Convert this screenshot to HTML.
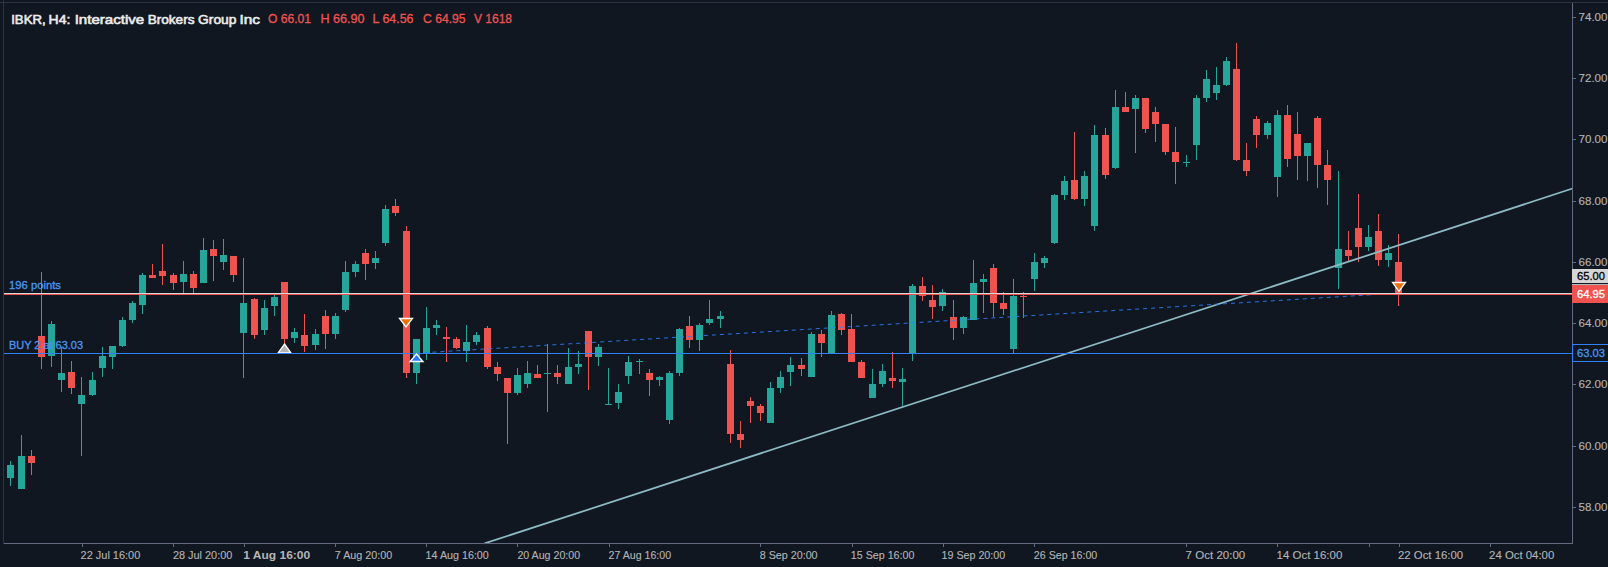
<!DOCTYPE html>
<html><head><meta charset="utf-8"><title>IBKR, H4: Interactive Brokers Group Inc</title>
<style>html,body{margin:0;padding:0;background:#101721;overflow:hidden}body{width:1608px;height:567px;position:relative}svg{position:absolute;left:0;top:0;display:block}text{font-family:"Liberation Sans", sans-serif}text.s{stroke-width:0.3px;paint-order:stroke fill}</style></head><body>
<svg width="1608" height="567" viewBox="0 0 1608 567">
<rect x="0" y="0" width="1608" height="567" fill="#101721"/>
<g shape-rendering="crispEdges">
<rect x="10" y="461" width="1" height="25" fill="#26a69a"/>
<rect x="7" y="465" width="7" height="13" fill="#26a69a"/>
<rect x="21" y="435" width="1" height="54" fill="#26a69a"/>
<rect x="18" y="456" width="7" height="33" fill="#26a69a"/>
<rect x="31" y="450" width="1" height="25" fill="#ef5350"/>
<rect x="28" y="456" width="7" height="7" fill="#ef5350"/>
<rect x="41" y="272" width="1" height="97" fill="#ef5350"/>
<rect x="38" y="336" width="7" height="21" fill="#ef5350"/>
<rect x="51" y="321" width="1" height="46" fill="#26a69a"/>
<rect x="48" y="324" width="7" height="32" fill="#26a69a"/>
<rect x="61" y="347" width="1" height="45" fill="#26a69a"/>
<rect x="58" y="373" width="7" height="7" fill="#26a69a"/>
<rect x="71" y="361" width="1" height="33" fill="#ef5350"/>
<rect x="68" y="372" width="7" height="16" fill="#ef5350"/>
<rect x="81" y="377" width="1" height="79" fill="#26a69a"/>
<rect x="78" y="395" width="7" height="9" fill="#26a69a"/>
<rect x="92" y="372" width="1" height="24" fill="#26a69a"/>
<rect x="89" y="380" width="7" height="15" fill="#26a69a"/>
<rect x="102" y="347" width="1" height="30" fill="#26a69a"/>
<rect x="99" y="356" width="7" height="12" fill="#26a69a"/>
<rect x="112" y="346" width="1" height="23" fill="#26a69a"/>
<rect x="109" y="346" width="7" height="11" fill="#26a69a"/>
<rect x="122" y="317" width="1" height="30" fill="#26a69a"/>
<rect x="119" y="320" width="7" height="26" fill="#26a69a"/>
<rect x="132" y="301" width="1" height="22" fill="#26a69a"/>
<rect x="129" y="303" width="7" height="17" fill="#26a69a"/>
<rect x="142" y="273" width="1" height="41" fill="#26a69a"/>
<rect x="139" y="275" width="7" height="30" fill="#26a69a"/>
<rect x="152" y="264" width="1" height="14" fill="#ef5350"/>
<rect x="149" y="275" width="7" height="3" fill="#ef5350"/>
<rect x="162" y="244" width="1" height="41" fill="#ef5350"/>
<rect x="159" y="271" width="7" height="5" fill="#ef5350"/>
<rect x="173" y="273" width="1" height="17" fill="#ef5350"/>
<rect x="170" y="275" width="7" height="8" fill="#ef5350"/>
<rect x="183" y="261" width="1" height="32" fill="#26a69a"/>
<rect x="180" y="274" width="7" height="8" fill="#26a69a"/>
<rect x="193" y="271" width="1" height="22" fill="#ef5350"/>
<rect x="190" y="274" width="7" height="14" fill="#ef5350"/>
<rect x="203" y="238" width="1" height="45" fill="#26a69a"/>
<rect x="200" y="250" width="7" height="33" fill="#26a69a"/>
<rect x="213" y="240" width="1" height="41" fill="#ef5350"/>
<rect x="210" y="249" width="7" height="7" fill="#ef5350"/>
<rect x="223" y="239" width="1" height="31" fill="#26a69a"/>
<rect x="220" y="255" width="7" height="7" fill="#26a69a"/>
<rect x="233" y="256" width="1" height="26" fill="#ef5350"/>
<rect x="230" y="256" width="7" height="19" fill="#ef5350"/>
<rect x="243" y="258" width="1" height="120" fill="#26a69a"/>
<rect x="240" y="303" width="7" height="30" fill="#26a69a"/>
<rect x="254" y="298" width="1" height="41" fill="#ef5350"/>
<rect x="251" y="299" width="7" height="36" fill="#ef5350"/>
<rect x="264" y="300" width="1" height="35" fill="#26a69a"/>
<rect x="261" y="308" width="7" height="22" fill="#26a69a"/>
<rect x="274" y="295" width="1" height="21" fill="#26a69a"/>
<rect x="271" y="297" width="7" height="9" fill="#26a69a"/>
<rect x="284" y="282" width="1" height="62" fill="#ef5350"/>
<rect x="281" y="282" width="7" height="57" fill="#ef5350"/>
<rect x="294" y="328" width="1" height="15" fill="#26a69a"/>
<rect x="291" y="332" width="7" height="6" fill="#26a69a"/>
<rect x="304" y="314" width="1" height="38" fill="#ef5350"/>
<rect x="301" y="335" width="7" height="11" fill="#ef5350"/>
<rect x="315" y="329" width="1" height="21" fill="#26a69a"/>
<rect x="312" y="334" width="7" height="11" fill="#26a69a"/>
<rect x="325" y="310" width="1" height="39" fill="#ef5350"/>
<rect x="322" y="316" width="7" height="18" fill="#ef5350"/>
<rect x="335" y="313" width="1" height="26" fill="#26a69a"/>
<rect x="332" y="316" width="7" height="18" fill="#26a69a"/>
<rect x="345" y="261" width="1" height="51" fill="#26a69a"/>
<rect x="342" y="272" width="7" height="38" fill="#26a69a"/>
<rect x="355" y="261" width="1" height="16" fill="#26a69a"/>
<rect x="352" y="264" width="7" height="8" fill="#26a69a"/>
<rect x="365" y="249" width="1" height="31" fill="#ef5350"/>
<rect x="362" y="253" width="7" height="11" fill="#ef5350"/>
<rect x="375" y="251" width="1" height="18" fill="#26a69a"/>
<rect x="372" y="258" width="7" height="5" fill="#26a69a"/>
<rect x="385" y="205" width="1" height="41" fill="#26a69a"/>
<rect x="382" y="209" width="7" height="34" fill="#26a69a"/>
<rect x="395" y="199" width="1" height="17" fill="#ef5350"/>
<rect x="392" y="206" width="7" height="7" fill="#ef5350"/>
<rect x="406" y="226" width="1" height="152" fill="#ef5350"/>
<rect x="403" y="231" width="7" height="142" fill="#ef5350"/>
<rect x="416" y="339" width="1" height="45" fill="#26a69a"/>
<rect x="413" y="339" width="7" height="34" fill="#26a69a"/>
<rect x="426" y="307" width="1" height="53" fill="#26a69a"/>
<rect x="423" y="328" width="7" height="25" fill="#26a69a"/>
<rect x="436" y="320" width="1" height="15" fill="#26a69a"/>
<rect x="433" y="325" width="7" height="3" fill="#26a69a"/>
<rect x="446" y="327" width="1" height="35" fill="#ef5350"/>
<rect x="443" y="337" width="7" height="2" fill="#ef5350"/>
<rect x="456" y="337" width="1" height="12" fill="#ef5350"/>
<rect x="453" y="339" width="7" height="9" fill="#ef5350"/>
<rect x="466" y="325" width="1" height="37" fill="#26a69a"/>
<rect x="463" y="342" width="7" height="9" fill="#26a69a"/>
<rect x="476" y="332" width="1" height="13" fill="#26a69a"/>
<rect x="473" y="335" width="7" height="7" fill="#26a69a"/>
<rect x="487" y="326" width="1" height="43" fill="#ef5350"/>
<rect x="484" y="328" width="7" height="39" fill="#ef5350"/>
<rect x="497" y="362" width="1" height="19" fill="#ef5350"/>
<rect x="494" y="367" width="7" height="7" fill="#ef5350"/>
<rect x="507" y="378" width="1" height="66" fill="#ef5350"/>
<rect x="504" y="378" width="7" height="15" fill="#ef5350"/>
<rect x="517" y="368" width="1" height="27" fill="#26a69a"/>
<rect x="514" y="375" width="7" height="18" fill="#26a69a"/>
<rect x="527" y="361" width="1" height="27" fill="#26a69a"/>
<rect x="524" y="373" width="7" height="11" fill="#26a69a"/>
<rect x="537" y="365" width="1" height="13" fill="#ef5350"/>
<rect x="534" y="374" width="7" height="4" fill="#ef5350"/>
<rect x="547" y="344" width="1" height="68" fill="#26a69a"/>
<rect x="544" y="373" width="7" height="1" fill="#26a69a"/>
<rect x="557" y="365" width="1" height="19" fill="#ef5350"/>
<rect x="554" y="373" width="7" height="4" fill="#ef5350"/>
<rect x="568" y="348" width="1" height="36" fill="#26a69a"/>
<rect x="565" y="367" width="7" height="17" fill="#26a69a"/>
<rect x="578" y="351" width="1" height="23" fill="#26a69a"/>
<rect x="575" y="364" width="7" height="3" fill="#26a69a"/>
<rect x="588" y="331" width="1" height="59" fill="#ef5350"/>
<rect x="585" y="331" width="7" height="26" fill="#ef5350"/>
<rect x="598" y="344" width="1" height="22" fill="#26a69a"/>
<rect x="595" y="347" width="7" height="10" fill="#26a69a"/>
<rect x="608" y="368" width="1" height="37" fill="#26a69a"/>
<rect x="605" y="404" width="7" height="1" fill="#26a69a"/>
<rect x="618" y="384" width="1" height="25" fill="#26a69a"/>
<rect x="615" y="392" width="7" height="11" fill="#26a69a"/>
<rect x="628" y="356" width="1" height="28" fill="#26a69a"/>
<rect x="625" y="362" width="7" height="14" fill="#26a69a"/>
<rect x="639" y="359" width="1" height="15" fill="#26a69a"/>
<rect x="636" y="361" width="7" height="1" fill="#26a69a"/>
<rect x="649" y="369" width="1" height="27" fill="#ef5350"/>
<rect x="646" y="373" width="7" height="7" fill="#ef5350"/>
<rect x="659" y="376" width="1" height="10" fill="#26a69a"/>
<rect x="656" y="377" width="7" height="3" fill="#26a69a"/>
<rect x="669" y="371" width="1" height="53" fill="#26a69a"/>
<rect x="666" y="373" width="7" height="47" fill="#26a69a"/>
<rect x="679" y="328" width="1" height="48" fill="#26a69a"/>
<rect x="676" y="329" width="7" height="44" fill="#26a69a"/>
<rect x="689" y="316" width="1" height="32" fill="#ef5350"/>
<rect x="686" y="326" width="7" height="14" fill="#ef5350"/>
<rect x="699" y="323" width="1" height="28" fill="#26a69a"/>
<rect x="696" y="325" width="7" height="15" fill="#26a69a"/>
<rect x="709" y="300" width="1" height="25" fill="#26a69a"/>
<rect x="706" y="319" width="7" height="4" fill="#26a69a"/>
<rect x="720" y="311" width="1" height="17" fill="#26a69a"/>
<rect x="717" y="316" width="7" height="3" fill="#26a69a"/>
<rect x="730" y="350" width="1" height="93" fill="#ef5350"/>
<rect x="727" y="364" width="7" height="70" fill="#ef5350"/>
<rect x="740" y="421" width="1" height="27" fill="#ef5350"/>
<rect x="737" y="434" width="7" height="6" fill="#ef5350"/>
<rect x="750" y="397" width="1" height="26" fill="#ef5350"/>
<rect x="747" y="401" width="7" height="5" fill="#ef5350"/>
<rect x="760" y="404" width="1" height="17" fill="#ef5350"/>
<rect x="757" y="406" width="7" height="7" fill="#ef5350"/>
<rect x="770" y="382" width="1" height="41" fill="#26a69a"/>
<rect x="767" y="388" width="7" height="35" fill="#26a69a"/>
<rect x="780" y="371" width="1" height="22" fill="#26a69a"/>
<rect x="777" y="377" width="7" height="11" fill="#26a69a"/>
<rect x="790" y="357" width="1" height="29" fill="#26a69a"/>
<rect x="787" y="365" width="7" height="7" fill="#26a69a"/>
<rect x="801" y="358" width="1" height="18" fill="#ef5350"/>
<rect x="798" y="365" width="7" height="4" fill="#ef5350"/>
<rect x="811" y="332" width="1" height="45" fill="#26a69a"/>
<rect x="808" y="334" width="7" height="43" fill="#26a69a"/>
<rect x="821" y="330" width="1" height="27" fill="#ef5350"/>
<rect x="818" y="334" width="7" height="9" fill="#ef5350"/>
<rect x="831" y="311" width="1" height="42" fill="#26a69a"/>
<rect x="828" y="315" width="7" height="38" fill="#26a69a"/>
<rect x="841" y="313" width="1" height="22" fill="#ef5350"/>
<rect x="838" y="314" width="7" height="16" fill="#ef5350"/>
<rect x="851" y="314" width="1" height="48" fill="#ef5350"/>
<rect x="848" y="329" width="7" height="33" fill="#ef5350"/>
<rect x="861" y="360" width="1" height="18" fill="#ef5350"/>
<rect x="858" y="362" width="7" height="16" fill="#ef5350"/>
<rect x="872" y="369" width="1" height="29" fill="#26a69a"/>
<rect x="869" y="384" width="7" height="14" fill="#26a69a"/>
<rect x="882" y="364" width="1" height="23" fill="#26a69a"/>
<rect x="879" y="371" width="7" height="13" fill="#26a69a"/>
<rect x="892" y="352" width="1" height="36" fill="#ef5350"/>
<rect x="889" y="378" width="7" height="3" fill="#ef5350"/>
<rect x="902" y="368" width="1" height="38" fill="#26a69a"/>
<rect x="899" y="379" width="7" height="3" fill="#26a69a"/>
<rect x="912" y="284" width="1" height="77" fill="#26a69a"/>
<rect x="909" y="286" width="7" height="67" fill="#26a69a"/>
<rect x="922" y="277" width="1" height="24" fill="#ef5350"/>
<rect x="919" y="286" width="7" height="10" fill="#ef5350"/>
<rect x="932" y="285" width="1" height="34" fill="#ef5350"/>
<rect x="929" y="300" width="7" height="7" fill="#ef5350"/>
<rect x="942" y="289" width="1" height="22" fill="#26a69a"/>
<rect x="939" y="292" width="7" height="14" fill="#26a69a"/>
<rect x="953" y="300" width="1" height="40" fill="#ef5350"/>
<rect x="950" y="317" width="7" height="11" fill="#ef5350"/>
<rect x="963" y="316" width="1" height="18" fill="#26a69a"/>
<rect x="960" y="317" width="7" height="11" fill="#26a69a"/>
<rect x="973" y="260" width="1" height="60" fill="#26a69a"/>
<rect x="970" y="283" width="7" height="37" fill="#26a69a"/>
<rect x="983" y="274" width="1" height="39" fill="#26a69a"/>
<rect x="980" y="279" width="7" height="3" fill="#26a69a"/>
<rect x="993" y="264" width="1" height="53" fill="#ef5350"/>
<rect x="990" y="268" width="7" height="35" fill="#ef5350"/>
<rect x="1003" y="292" width="1" height="23" fill="#ef5350"/>
<rect x="1000" y="303" width="7" height="6" fill="#ef5350"/>
<rect x="1013" y="279" width="1" height="74" fill="#26a69a"/>
<rect x="1010" y="296" width="7" height="53" fill="#26a69a"/>
<rect x="1023" y="292" width="1" height="26" fill="#ef5350"/>
<rect x="1020" y="296" width="7" height="1" fill="#ef5350"/>
<rect x="1034" y="253" width="1" height="38" fill="#26a69a"/>
<rect x="1031" y="262" width="7" height="17" fill="#26a69a"/>
<rect x="1044" y="256" width="1" height="12" fill="#26a69a"/>
<rect x="1041" y="258" width="7" height="5" fill="#26a69a"/>
<rect x="1054" y="194" width="1" height="50" fill="#26a69a"/>
<rect x="1051" y="195" width="7" height="48" fill="#26a69a"/>
<rect x="1064" y="176" width="1" height="24" fill="#26a69a"/>
<rect x="1061" y="181" width="7" height="14" fill="#26a69a"/>
<rect x="1074" y="132" width="1" height="68" fill="#ef5350"/>
<rect x="1071" y="180" width="7" height="19" fill="#ef5350"/>
<rect x="1084" y="171" width="1" height="35" fill="#26a69a"/>
<rect x="1081" y="176" width="7" height="23" fill="#26a69a"/>
<rect x="1094" y="125" width="1" height="106" fill="#26a69a"/>
<rect x="1091" y="135" width="7" height="91" fill="#26a69a"/>
<rect x="1105" y="128" width="1" height="51" fill="#ef5350"/>
<rect x="1102" y="135" width="7" height="40" fill="#ef5350"/>
<rect x="1115" y="90" width="1" height="79" fill="#26a69a"/>
<rect x="1112" y="107" width="7" height="61" fill="#26a69a"/>
<rect x="1125" y="92" width="1" height="20" fill="#ef5350"/>
<rect x="1122" y="107" width="7" height="5" fill="#ef5350"/>
<rect x="1135" y="95" width="1" height="58" fill="#26a69a"/>
<rect x="1132" y="98" width="7" height="11" fill="#26a69a"/>
<rect x="1145" y="98" width="1" height="35" fill="#ef5350"/>
<rect x="1142" y="98" width="7" height="31" fill="#ef5350"/>
<rect x="1155" y="107" width="1" height="35" fill="#ef5350"/>
<rect x="1152" y="112" width="7" height="12" fill="#ef5350"/>
<rect x="1165" y="124" width="1" height="31" fill="#ef5350"/>
<rect x="1162" y="124" width="7" height="28" fill="#ef5350"/>
<rect x="1175" y="127" width="1" height="57" fill="#ef5350"/>
<rect x="1172" y="152" width="7" height="10" fill="#ef5350"/>
<rect x="1186" y="155" width="1" height="12" fill="#26a69a"/>
<rect x="1183" y="162" width="7" height="1" fill="#26a69a"/>
<rect x="1196" y="95" width="1" height="65" fill="#26a69a"/>
<rect x="1193" y="98" width="7" height="47" fill="#26a69a"/>
<rect x="1206" y="70" width="1" height="32" fill="#26a69a"/>
<rect x="1203" y="79" width="7" height="19" fill="#26a69a"/>
<rect x="1216" y="67" width="1" height="33" fill="#26a69a"/>
<rect x="1213" y="85" width="7" height="8" fill="#26a69a"/>
<rect x="1226" y="57" width="1" height="29" fill="#26a69a"/>
<rect x="1223" y="61" width="7" height="24" fill="#26a69a"/>
<rect x="1236" y="43" width="1" height="118" fill="#ef5350"/>
<rect x="1233" y="69" width="7" height="91" fill="#ef5350"/>
<rect x="1246" y="143" width="1" height="33" fill="#ef5350"/>
<rect x="1243" y="160" width="7" height="11" fill="#ef5350"/>
<rect x="1256" y="116" width="1" height="32" fill="#ef5350"/>
<rect x="1253" y="119" width="7" height="16" fill="#ef5350"/>
<rect x="1267" y="121" width="1" height="18" fill="#26a69a"/>
<rect x="1264" y="123" width="7" height="12" fill="#26a69a"/>
<rect x="1277" y="110" width="1" height="87" fill="#26a69a"/>
<rect x="1274" y="115" width="7" height="62" fill="#26a69a"/>
<rect x="1287" y="105" width="1" height="62" fill="#ef5350"/>
<rect x="1284" y="115" width="7" height="44" fill="#ef5350"/>
<rect x="1297" y="112" width="1" height="68" fill="#ef5350"/>
<rect x="1294" y="134" width="7" height="22" fill="#ef5350"/>
<rect x="1307" y="143" width="1" height="38" fill="#26a69a"/>
<rect x="1304" y="143" width="7" height="13" fill="#26a69a"/>
<rect x="1317" y="116" width="1" height="72" fill="#ef5350"/>
<rect x="1314" y="118" width="7" height="47" fill="#ef5350"/>
<rect x="1327" y="150" width="1" height="55" fill="#ef5350"/>
<rect x="1324" y="165" width="7" height="15" fill="#ef5350"/>
<rect x="1338" y="171" width="1" height="118" fill="#26a69a"/>
<rect x="1335" y="249" width="7" height="19" fill="#26a69a"/>
<rect x="1348" y="231" width="1" height="30" fill="#ef5350"/>
<rect x="1345" y="250" width="7" height="6" fill="#ef5350"/>
<rect x="1358" y="194" width="1" height="68" fill="#ef5350"/>
<rect x="1355" y="228" width="7" height="19" fill="#ef5350"/>
<rect x="1368" y="225" width="1" height="26" fill="#26a69a"/>
<rect x="1365" y="237" width="7" height="10" fill="#26a69a"/>
<rect x="1378" y="214" width="1" height="52" fill="#ef5350"/>
<rect x="1375" y="231" width="7" height="29" fill="#ef5350"/>
<rect x="1388" y="245" width="1" height="22" fill="#26a69a"/>
<rect x="1385" y="253" width="7" height="7" fill="#26a69a"/>
<rect x="1398" y="234" width="1" height="72" fill="#ef5350"/>
<rect x="1395" y="262" width="7" height="32" fill="#ef5350"/>
</g>
<line x1="484.6" y1="543.42" x2="1572.5" y2="188.54" stroke="#8ebbc3" stroke-width="1.75"/>
<line x1="416.5" y1="353.2" x2="1398.5" y2="293.1" stroke="#3080ff" stroke-width="1" stroke-opacity="0.85" stroke-dasharray="4 4"/>
<polygon points="284.5,344 291,353 278,353" fill="#b3b3b3" stroke="#ffffff" stroke-width="1.3" stroke-linejoin="miter"/>
<g shape-rendering="crispEdges">
<rect x="4" y="293" width="1568" height="1" fill="#d6d6d6"/>
<rect x="4" y="294" width="1568" height="1" fill="#ef5350"/>
<rect x="4" y="353" width="1568" height="1" fill="#3080ff"/>
</g>
<polygon points="399.5,318.5 412.5,318.5 406,327" fill="#e8710a" stroke="#ffffff" stroke-width="1.3"/>
<polygon points="1392.5,282.5 1405.5,282.5 1399,291.5" fill="#e8710a" stroke="#ffffff" stroke-width="1.3"/>
<polygon points="416.5,354 423,361.5 410,361.5" fill="#2979ff" stroke="#ffffff" stroke-width="1.3"/>
<g shape-rendering="crispEdges">
<rect x="0" y="2" width="1608" height="1" fill="#2c3443"/>
<rect x="3" y="0" width="1" height="544" fill="#2c3443"/>
<rect x="1572" y="3" width="1" height="541" fill="#626a7f"/>
<rect x="4" y="543" width="1569" height="1" fill="#626a7f"/>
<rect x="1573" y="17" width="3" height="1" fill="#626a7f"/>
<rect x="1573" y="78" width="3" height="1" fill="#626a7f"/>
<rect x="1573" y="139" width="3" height="1" fill="#626a7f"/>
<rect x="1573" y="201" width="3" height="1" fill="#626a7f"/>
<rect x="1573" y="262" width="3" height="1" fill="#626a7f"/>
<rect x="1573" y="323" width="3" height="1" fill="#626a7f"/>
<rect x="1573" y="384" width="3" height="1" fill="#626a7f"/>
<rect x="1573" y="446" width="3" height="1" fill="#626a7f"/>
<rect x="1573" y="507" width="3" height="1" fill="#626a7f"/>
<rect x="82" y="544" width="1" height="3" fill="#626a7f"/>
<rect x="173" y="544" width="1" height="3" fill="#626a7f"/>
<rect x="244" y="544" width="1" height="3" fill="#626a7f"/>
<rect x="335" y="544" width="1" height="3" fill="#626a7f"/>
<rect x="426" y="544" width="1" height="3" fill="#626a7f"/>
<rect x="517" y="544" width="1" height="3" fill="#626a7f"/>
<rect x="609" y="544" width="1" height="3" fill="#626a7f"/>
<rect x="760" y="544" width="1" height="3" fill="#626a7f"/>
<rect x="852" y="544" width="1" height="3" fill="#626a7f"/>
<rect x="943" y="544" width="1" height="3" fill="#626a7f"/>
<rect x="1034" y="544" width="1" height="3" fill="#626a7f"/>
<rect x="1186" y="544" width="1" height="3" fill="#626a7f"/>
<rect x="1277" y="544" width="1" height="3" fill="#626a7f"/>
<rect x="1369" y="544" width="1" height="3" fill="#626a7f"/>
<rect x="1399" y="544" width="1" height="3" fill="#626a7f"/>
<rect x="1490" y="544" width="1" height="3" fill="#626a7f"/>
<rect x="1572" y="269" width="36" height="14" fill="#d6d6d6"/>
<rect x="1572" y="283" width="36" height="1" fill="#101721"/>
<rect x="1572" y="284" width="36" height="1" fill="#b0baba"/>
<rect x="1572" y="285" width="36" height="18" fill="#ef5350"/>
<rect x="1572" y="344" width="37" height="18" fill="#101721"/>
<rect x="1572" y="344" width="36" height="1" fill="#3080ff"/>
<rect x="1572" y="361" width="36" height="1" fill="#3080ff"/>
<rect x="1572" y="344" width="1" height="18" fill="#3080ff"/>
</g>
<text class="s" style="stroke-width:0.12px" stroke="#b4b4b4" x="1578.5" y="21" font-size="11" fill="#b4b4b4" textLength="29" lengthAdjust="spacingAndGlyphs">74.00</text>
<text class="s" style="stroke-width:0.12px" stroke="#b4b4b4" x="1578.5" y="82" font-size="11" fill="#b4b4b4" textLength="29" lengthAdjust="spacingAndGlyphs">72.00</text>
<text class="s" style="stroke-width:0.12px" stroke="#b4b4b4" x="1578.5" y="143" font-size="11" fill="#b4b4b4" textLength="29" lengthAdjust="spacingAndGlyphs">70.00</text>
<text class="s" style="stroke-width:0.12px" stroke="#b4b4b4" x="1578.5" y="205" font-size="11" fill="#b4b4b4" textLength="29" lengthAdjust="spacingAndGlyphs">68.00</text>
<text class="s" style="stroke-width:0.12px" stroke="#b4b4b4" x="1578.5" y="266" font-size="11" fill="#b4b4b4" textLength="29" lengthAdjust="spacingAndGlyphs">66.00</text>
<text class="s" style="stroke-width:0.12px" stroke="#b4b4b4" x="1578.5" y="327" font-size="11" fill="#b4b4b4" textLength="29" lengthAdjust="spacingAndGlyphs">64.00</text>
<text class="s" style="stroke-width:0.12px" stroke="#b4b4b4" x="1578.5" y="388" font-size="11" fill="#b4b4b4" textLength="29" lengthAdjust="spacingAndGlyphs">62.00</text>
<text class="s" style="stroke-width:0.12px" stroke="#b4b4b4" x="1578.5" y="450" font-size="11" fill="#b4b4b4" textLength="29" lengthAdjust="spacingAndGlyphs">60.00</text>
<text class="s" style="stroke-width:0.12px" stroke="#b4b4b4" x="1578.5" y="511" font-size="11" fill="#b4b4b4" textLength="29" lengthAdjust="spacingAndGlyphs">58.00</text>
<text class="s" stroke="#000000" x="1577" y="279.8" font-size="11" fill="#000000" textLength="28" lengthAdjust="spacingAndGlyphs">65.00</text>
<text class="s" stroke="#ffffff" x="1577" y="298" font-size="11" fill="#ffffff" textLength="28" lengthAdjust="spacingAndGlyphs">64.95</text>
<text class="s" stroke="#4a96f0" x="1577" y="357" font-size="11" fill="#4a96f0" textLength="28" lengthAdjust="spacingAndGlyphs">63.03</text>
<text class="s" style="stroke-width:0.12px" stroke="#b4b4b4" x="80.6" y="559" font-size="11" fill="#b4b4b4" textLength="59.7" lengthAdjust="spacingAndGlyphs">22 Jul 16:00</text>
<text class="s" style="stroke-width:0.12px" stroke="#b4b4b4" x="172.9" y="559" font-size="11" fill="#b4b4b4" textLength="59.4" lengthAdjust="spacingAndGlyphs">28 Jul 20:00</text>
<text x="243.3" y="559" font-size="11" font-weight="bold" fill="#b6b6b6" textLength="66.9" lengthAdjust="spacingAndGlyphs">1 Aug 16:00</text>
<text class="s" style="stroke-width:0.12px" stroke="#b4b4b4" x="334.8" y="559" font-size="11" fill="#b4b4b4" textLength="57.5" lengthAdjust="spacingAndGlyphs">7 Aug 20:00</text>
<text class="s" style="stroke-width:0.12px" stroke="#b4b4b4" x="425.6" y="559" font-size="11" fill="#b4b4b4" textLength="63.2" lengthAdjust="spacingAndGlyphs">14 Aug 16:00</text>
<text class="s" style="stroke-width:0.12px" stroke="#b4b4b4" x="517.4" y="559" font-size="11" fill="#b4b4b4" textLength="62.7" lengthAdjust="spacingAndGlyphs">20 Aug 20:00</text>
<text class="s" style="stroke-width:0.12px" stroke="#b4b4b4" x="608.5" y="559" font-size="11" fill="#b4b4b4" textLength="62.6" lengthAdjust="spacingAndGlyphs">27 Aug 16:00</text>
<text class="s" style="stroke-width:0.12px" stroke="#b4b4b4" x="759.7" y="559" font-size="11" fill="#b4b4b4" textLength="57.9" lengthAdjust="spacingAndGlyphs">8 Sep 20:00</text>
<text class="s" style="stroke-width:0.12px" stroke="#b4b4b4" x="850.8" y="559" font-size="11" fill="#b4b4b4" textLength="63.6" lengthAdjust="spacingAndGlyphs">15 Sep 16:00</text>
<text class="s" style="stroke-width:0.12px" stroke="#b4b4b4" x="941.5" y="559" font-size="11" fill="#b4b4b4" textLength="63.7" lengthAdjust="spacingAndGlyphs">19 Sep 20:00</text>
<text class="s" style="stroke-width:0.12px" stroke="#b4b4b4" x="1033.8" y="559" font-size="11" fill="#b4b4b4" textLength="63.5" lengthAdjust="spacingAndGlyphs">26 Sep 16:00</text>
<text class="s" style="stroke-width:0.12px" stroke="#b4b4b4" x="1185.6" y="559" font-size="11" fill="#b4b4b4" textLength="59.7" lengthAdjust="spacingAndGlyphs">7 Oct 20:00</text>
<text class="s" style="stroke-width:0.12px" stroke="#b4b4b4" x="1276.6" y="559" font-size="11" fill="#b4b4b4" textLength="65.7" lengthAdjust="spacingAndGlyphs">14 Oct 16:00</text>
<text class="s" style="stroke-width:0.12px" stroke="#b4b4b4" x="1398.0" y="559" font-size="11" fill="#b4b4b4" textLength="65.2" lengthAdjust="spacingAndGlyphs">22 Oct 16:00</text>
<text class="s" style="stroke-width:0.12px" stroke="#b4b4b4" x="1489.1" y="559" font-size="11" fill="#b4b4b4" textLength="65.2" lengthAdjust="spacingAndGlyphs">24 Oct 04:00</text>
<text class="s" stroke="#4a96f0" x="9" y="289" font-size="10.3" fill="#4a96f0" textLength="52" lengthAdjust="spacingAndGlyphs">196 points</text>
<text class="s" stroke="#4a96f0" x="9" y="349" font-size="10.3" fill="#4a96f0" textLength="74" lengthAdjust="spacingAndGlyphs">BUY 2 at 63.03</text>
<text class="s" stroke="#ececec" y="23.6" font-size="13.4" fill="#ececec" style="stroke-width:0.6px"><tspan x="11.2" textLength="34.5" lengthAdjust="spacingAndGlyphs">IBKR,</tspan> <tspan x="48.6" textLength="21.7" lengthAdjust="spacingAndGlyphs">H4:</tspan> <tspan x="74.7" textLength="69.5" lengthAdjust="spacingAndGlyphs">Interactive</tspan> <tspan x="147.7" textLength="46.8" lengthAdjust="spacingAndGlyphs">Brokers</tspan> <tspan x="198.1" textLength="38.4" lengthAdjust="spacingAndGlyphs">Group</tspan> <tspan x="239.5" textLength="20.5" lengthAdjust="spacingAndGlyphs">Inc</tspan></text>
<text class="s" stroke="#ef5350" x="268" y="23" font-size="12.5" fill="#ef5350" textLength="43" lengthAdjust="spacingAndGlyphs">O 66.01</text>
<text class="s" stroke="#ef5350" x="320.5" y="23" font-size="12.5" fill="#ef5350" textLength="44" lengthAdjust="spacingAndGlyphs">H 66.90</text>
<text class="s" stroke="#ef5350" x="372.5" y="23" font-size="12.5" fill="#ef5350" textLength="41" lengthAdjust="spacingAndGlyphs">L 64.56</text>
<text class="s" stroke="#ef5350" x="423" y="23" font-size="12.5" fill="#ef5350" textLength="42.5" lengthAdjust="spacingAndGlyphs">C 64.95</text>
<text class="s" stroke="#ef5350" x="474" y="23" font-size="12.5" fill="#ef5350" textLength="38" lengthAdjust="spacingAndGlyphs">V 1618</text>
</svg></body></html>
